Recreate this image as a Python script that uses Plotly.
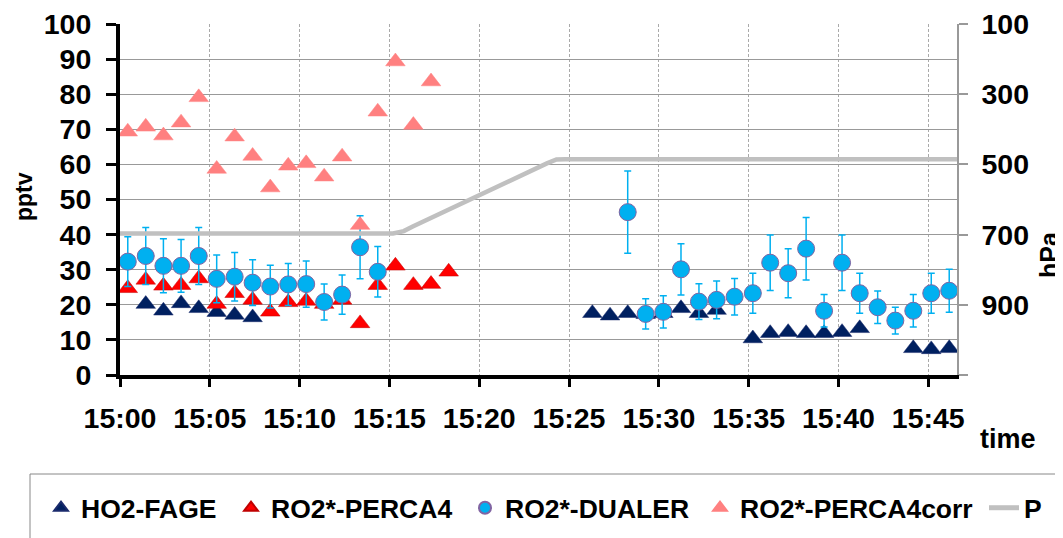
import plotly.graph_objects as go

DAY = "2000-01-01 15:"

# ---- data (minutes:seconds after 15:00) ----
fage_t = ["01:26", "02:25", "03:24", "04:23", "05:23", "06:23", "07:23",
          "26:18", "27:17", "28:16", "29:16", "30:15", "31:14", "32:14", "33:13",
          "35:14", "36:12", "37:12", "38:12", "39:12", "40:12", "41:11",
          "44:10", "45:10", "46:10"]
fage_v = [20.2, 18.3, 20.4, 19.0, 17.9, 17.1, 16.4,
          17.6, 16.9, 17.6, 17.3, 17.6, 19.0, 17.6, 18.5,
          10.4, 11.9, 12.2, 11.9, 11.9, 12.2, 13.3,
          7.6, 7.3, 7.6]

perca_t = ["00:26", "01:26", "02:25", "03:24", "04:23", "05:23", "06:23", "07:23",
           "08:22", "09:22", "10:22", "11:22", "12:22", "13:22", "14:21", "15:20",
           "16:20", "17:19", "18:18"]
perca_v = [24.7, 27.1, 25.4, 25.6, 27.5, 20.2, 23.3, 21.4,
           18.0, 20.7, 21.1, 20.2, 21.4, 14.7, 25.6, 31.1,
           25.6, 25.9, 29.4]

dualer_t = ["00:26", "01:26", "02:25", "03:24", "04:23", "05:23", "06:23", "07:23",
            "08:22", "09:22", "10:22", "11:22", "12:22", "13:22", "14:21",
            "28:16", "29:16", "30:15", "31:14", "32:14", "33:13", "34:13", "35:14",
            "36:12", "37:12", "38:12", "39:12", "40:12", "41:11", "42:11", "43:10",
            "44:10", "45:10", "46:10"]
dualer_v = [32.3, 33.9, 31.1, 31.1, 33.9, 27.4, 28.0, 26.3,
            25.2, 25.8, 25.9, 20.8, 22.9, 36.4, 29.4,
            46.4, 17.4, 18.0, 30.1, 20.9, 21.4, 22.3, 23.3,
            32.0, 29.0, 36.0, 18.3, 32.0, 23.3, 19.3, 15.5,
            18.3, 23.3, 24.0]
dualer_err = [7.1, 8.1, 7.7, 7.5, 8.1, 6.8, 6.9, 6.5,
              6.1, 6.0, 6.6, 5.1, 5.6, 9.0, 7.2,
              11.7, 4.3, 4.6, 7.3, 5.1, 5.4, 5.2, 5.7,
              7.9, 7.0, 8.9, 4.6, 7.9, 5.7, 4.6, 3.8,
              4.6, 5.7, 6.1]

corr_t = ["00:26", "01:26", "02:25", "03:24", "04:23", "05:23", "06:23", "07:23",
          "08:22", "09:22", "10:22", "11:22", "12:22", "13:22", "14:21", "15:20",
          "16:20", "17:19"]
corr_v = [69.3, 70.7, 68.2, 71.9, 79.1, 58.7, 67.9, 62.4,
          53.4, 59.6, 60.3, 56.5, 62.2, 42.7, 75.0, 89.3,
          71.2, 83.6]

p_t = ["00:00", "15:12", "15:48", "16:18", "23:46", "24:18", "24:48", "46:36"]
p_v = [697, 697, 690, 677, 497, 486, 485, 485]

x_ticks = ["00:00", "05:00", "10:00", "15:00", "20:00", "25:00", "30:00", "35:00", "40:00", "45:00"]
x_range = ["00:00", "46:36"]
hpa_ticks = [100, 300, 500, 700, 900, 1100]
hpa_text = ["100", "300", "500", "700", "900", ""]


def ts(lst):
    return [DAY + s for s in lst]


FONT = "Arial, Liberation Sans, sans-serif"
OFF = 8  # page body margin

W, H = 1063, 538
L, R, T, B = 112, 114, 16, 171
pw, ph = W - L - R, H - T - B


def px(x):  # screen x -> paper
    return (x - OFF - L) / pw


def py(y):  # screen y -> paper
    return (H - B - (y - OFF)) / ph


fig = go.Figure()
fig.add_trace(go.Scatter(
    x=ts(fage_t), y=fage_v, mode="markers", name="HO2-FAGE", legend="legend",
    marker=dict(symbol="triangle-up", size=17, color="#002060",
                line=dict(color="#1a2a6c", width=0.5))))
fig.add_trace(go.Scatter(
    x=ts(perca_t), y=perca_v, mode="markers", name="RO2*-PERCA4", legend="legend2",
    marker=dict(symbol="triangle-up", size=17, color="#FF0000",
                line=dict(color="#c00000", width=0.5))))
fig.add_trace(go.Scatter(
    x=ts(dualer_t), y=dualer_v, mode="markers", name="RO2*-DUALER", legend="legend3",
    error_y=dict(type="data", array=dualer_err, color="#00B0F0", thickness=1.5, width=3.5),
    marker=dict(symbol="circle", size=17, color="#00B0F0",
                line=dict(color="#8064A2", width=1))))
fig.add_trace(go.Scatter(
    x=ts(corr_t), y=corr_v, mode="markers", name="RO2*-PERCA4corr", legend="legend4",
    marker=dict(symbol="triangle-up", size=17, color="#FF8080",
                line=dict(color="#FF8080", width=0.5))))
fig.add_trace(go.Scatter(
    x=ts(p_t), y=p_v, mode="lines", name="P", yaxis="y2", legend="legend5",
    line=dict(color="#C0C0C0", width=4.5)))

legend_text_start = [81, 271, 505, 740, 1024]


def leg(xs):
    return dict(orientation="h", x=px(xs - 40), xanchor="left", y=py(508), yanchor="middle",
                font=dict(family=FONT, size=26.5, color="black", weight="bold"),
                itemsizing="constant", bgcolor="rgba(0,0,0,0)", borderwidth=0)


tickfont = dict(family=FONT, size=28.5, color="black", weight="bold")

fig.update_layout(
    width=W, height=H,
    margin=dict(l=L, r=R, t=T, b=B, autoexpand=False),
    paper_bgcolor="white", plot_bgcolor="white",
    font=dict(family=FONT, size=27, color="black"),
    showlegend=True,
    legend=leg(legend_text_start[0]),
    legend2=leg(legend_text_start[1]),
    legend3=leg(legend_text_start[2]),
    legend4=leg(legend_text_start[3]),
    legend5=leg(legend_text_start[4]),
    xaxis=dict(
        type="date", range=ts(x_range), tickvals=ts(x_ticks), tickformat="%H:%M",
        showline=True, linecolor="black", linewidth=4, mirror=False,
        ticks="outside", ticklen=8, tickwidth=3, tickcolor="black",
        showgrid=True, gridcolor="#AAAAAA", gridwidth=1, griddash="3px,2px",
        zeroline=False, ticklabelstandoff=7, ticklabeloverflow="allow", tickfont=tickfont),
    yaxis=dict(
        range=[0, 100], dtick=10, tick0=0,
        showline=True, linecolor="black", linewidth=4,
        ticks="outside", ticklen=10, tickwidth=3, tickcolor="black",
        showgrid=True, gridcolor="#999999", gridwidth=1, zeroline=False,
        ticklabelstandoff=9, ticklabeloverflow="allow", tickfont=tickfont),
    yaxis2=dict(
        overlaying="y", side="right", range=[1100, 100],
        tickvals=hpa_ticks, ticktext=hpa_text,
        showline=True, linecolor="#999999", linewidth=1.5,
        ticks="outside", ticklen=9, tickwidth=1.5, tickcolor="#999999",
        showgrid=False, zeroline=False, ticklabelstandoff=8, ticklabeloverflow="allow",
        tickfont=tickfont),
    shapes=[dict(type="rect", xref="paper", yref="paper",
                 x0=px(30), x1=px(1090), y0=py(560), y1=py(474),
                 line=dict(color="#888888", width=1), fillcolor="rgba(0,0,0,0)",
                 layer="below")],
    annotations=[
        dict(text="<b>pptv</b>", xref="paper", yref="paper", x=px(24), y=py(197),
             textangle=-90, showarrow=False, font=dict(family=FONT, size=23, color="black"),
             xanchor="center", yanchor="middle"),
        dict(text="<b>hPa</b>", xref="paper", yref="paper", x=px(1049), y=py(255),
             textangle=-90, showarrow=False, font=dict(family=FONT, size=25, color="black"),
             xanchor="center", yanchor="middle"),
        dict(text="<b>time</b>", xref="paper", yref="paper", x=px(1008), y=py(439),
             showarrow=False, font=dict(family=FONT, size=27, color="black"),
             xanchor="center", yanchor="middle"),
    ],
)

fig.write_html("out.html")
